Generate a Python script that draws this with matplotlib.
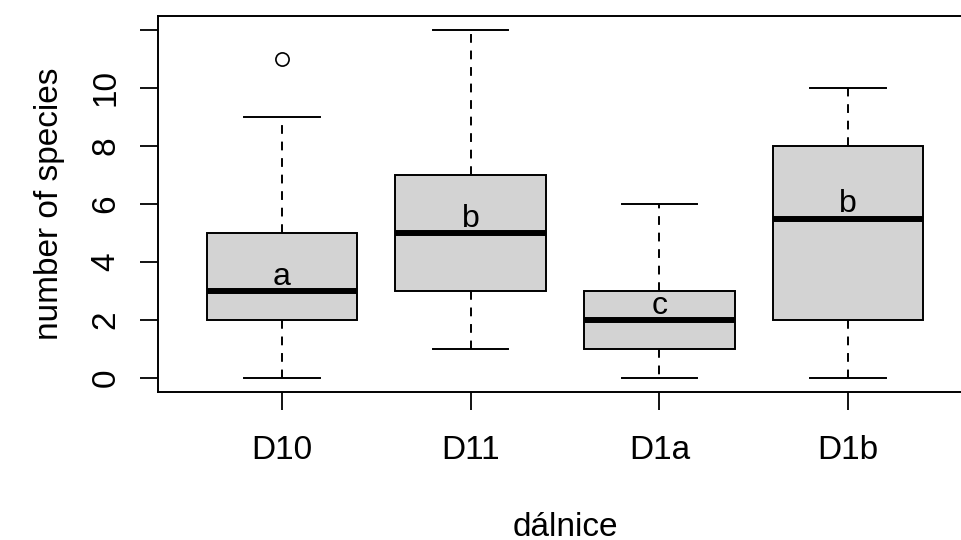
import matplotlib.pyplot as plt

plt.rcParams['font.family'] = ['Liberation Sans', 'DejaVu Sans']

groups = ['D10', 'D11', 'D1a', 'D1b']
lower_whisker = [0, 1, 0, 0]
q1 = [2, 3, 1, 2]
medians = [3, 5, 2, 5.5]
q3 = [5, 7, 3, 8]
upper_whisker = [9, 12, 6, 10]
outliers = [[11], [], [], []]
letters = ['a', 'b', 'c', 'b']

stats = []
for i, g in enumerate(groups):
    stats.append(dict(label=g, whislo=lower_whisker[i], q1=q1[i], med=medians[i],
                      q3=q3[i], whishi=upper_whisker[i], fliers=outliers[i]))

fig = plt.figure(figsize=(9.61, 5.4), dpi=100)
ax = fig.add_axes([157.5 / 961, 1 - 392 / 540, 815 / 961, 376 / 540])

pos = list(range(1, len(groups) + 1))
ax.bxp(stats, positions=pos, widths=0.8, patch_artist=True, showfliers=True,
       boxprops=dict(facecolor='#d3d3d3', edgecolor='black', linewidth=1.4),
       medianprops=dict(color='black', linewidth=4.3, solid_capstyle='butt'),
       whiskerprops=dict(color='black', linewidth=1.4, linestyle=(0, (4.5, 4))),
       capprops=dict(color='black', linewidth=1.4),
       capwidths=0.4,
       flierprops=dict(marker='o', markerfacecolor='none', markeredgecolor='black',
                       markersize=9.5, markeredgewidth=1.2))

for x, m, t in zip(pos, medians, letters):
    ax.text(x, m + 0.5, t, ha='center', va='center', fontsize=23)

ax.set_xlim(0.34, 4.66)
ax.set_ylim(-0.48, 12.48)
ax.set_yticks([0, 2, 4, 6, 8, 10, 12])
ax.set_yticklabels(['0', '2', '4', '6', '8', '10', ''], rotation=90, va='center')
ax.set_xticks(pos)
ax.set_xticklabels(groups)
ax.tick_params(axis='both', labelsize=24, length=13, width=1.3, direction='out')
ax.tick_params(axis='y', pad=13)
ax.tick_params(axis='x', pad=18)
for s in ax.spines.values():
    s.set_linewidth(1.4)

ax.set_xlabel('dálnice', fontsize=24, labelpad=33)
ax.set_ylabel('number of species', fontsize=24, labelpad=18)

fig.savefig('out.png', dpi=100)
